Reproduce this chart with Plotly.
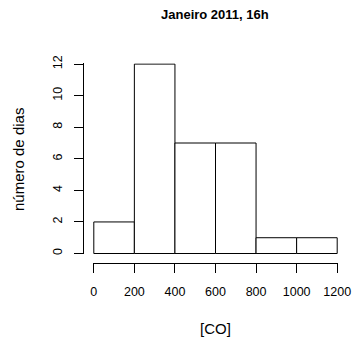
import plotly.graph_objects as go

bin_left = [0, 200, 400, 600, 800, 1000]
bin_width = 200
counts = [2, 12, 7, 7, 1, 1]
x_ticks = [0, 200, 400, 600, 800, 1000, 1200]
y_ticks = [0, 2, 4, 6, 8, 10, 12]
title_text = "<b>Janeiro 2011, 16h</b>"
x_label = "[CO]"
y_label = "número de dias"

W, H = 353, 338
FONT = "Liberation Sans, Arial, Helvetica, sans-serif"

centers = [b + bin_width / 2 for b in bin_left]

fig = go.Figure(go.Bar(
    x=centers, y=counts, width=[bin_width] * len(counts),
    marker=dict(color="white", line=dict(color="black", width=1)),
    hoverinfo="skip",
))

px_x0, px_x1 = 93, 338
px_y12, px_y0 = 63.3, 254.3
fig.update_layout(
    width=W, height=H,
    margin=dict(l=0, r=0, t=0, b=0, pad=0, autoexpand=False),
    paper_bgcolor="white", plot_bgcolor="white",
    showlegend=False, bargap=0,
    font=dict(family=FONT, color="black", size=12.5),
    xaxis=dict(
        domain=[px_x0 / W, px_x1 / W],
        range=[-4, 1204],
        anchor="free", position=(H - 262.5) / H,
        showline=True, linecolor="black", linewidth=1,
        ticks="outside", ticklen=9, tickcolor="black", tickwidth=1,
        tickvals=x_ticks, ticktext=[str(v) for v in x_ticks],
        ticklabelstandoff=8,
        showgrid=False, zeroline=False, fixedrange=True, automargin=False,
    ),
    yaxis=dict(
        domain=[(H - px_y0) / H, (H - px_y12) / H],
        range=[-0.05, 12.05],
        anchor="free", position=83 / W,
        showline=True, linecolor="black", linewidth=1,
        ticks="outside", ticklen=9, tickcolor="black", tickwidth=1,
        tickvals=y_ticks, ticktext=[str(v) for v in y_ticks],
        tickangle=-90, ticklabelstandoff=7,
        showgrid=False, zeroline=False, fixedrange=True, automargin=False,
    ),
    annotations=[
        dict(text=title_text, x=215.5 / W, y=1 - 14.5 / H, xref="paper", yref="paper",
             xanchor="center", yanchor="middle", showarrow=False,
             font=dict(size=13, family=FONT)),
        dict(text=x_label, x=215.5 / W, y=1 - 328 / H, xref="paper", yref="paper",
             xanchor="center", yanchor="middle", showarrow=False,
             font=dict(size=15, family=FONT)),
        dict(text=y_label, x=18 / W, y=1 - 160 / H, xref="paper", yref="paper",
             xanchor="center", yanchor="middle", showarrow=False, textangle=-90,
             font=dict(size=15, family=FONT)),
    ],
)

fig.write_html("out.html", config={"displayModeBar": False, "staticPlot": True},
               post_script="document.body.style.margin='0';document.body.style.overflow='hidden';")
